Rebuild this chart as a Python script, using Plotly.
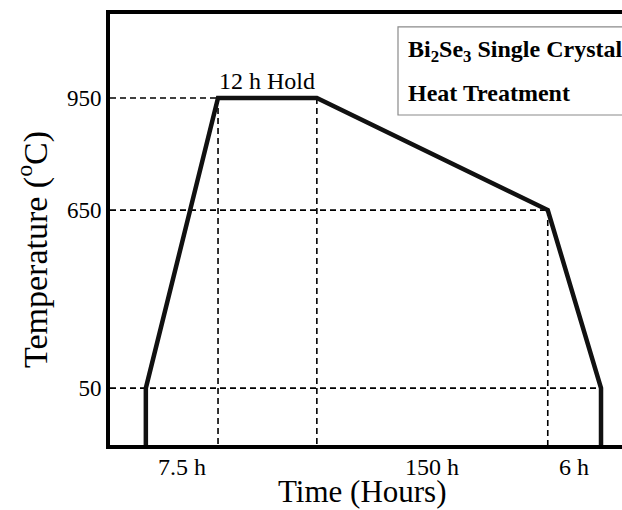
import plotly.graph_objects as go

# ---- data (schematic profile: positions are schematic, not to scale) ----
temp_ticks = [50, 650, 950]            # temperature levels (°C)
temp_heights = [13.2, 54.5, 80.5]      # schematic height of each level on the drawing
profile_x = [7.0, 7.0, 21.1, 40.4, 85.5, 95.9, 95.9]   # schematic time positions
profile_temp = [None, 50, 950, 950, 650, 50, None]     # None = base (room temperature)
stage_labels = ["7.5 h", "12 h Hold", "150 h", "6 h"]
stage_segments = [(1, 2), (2, 3), (3, 4), (4, 5)]      # profile segments each label belongs to

level = dict(zip(temp_ticks, temp_heights))
profile_y = [0 if t is None else level[t] for t in profile_temp]

FONT = "Liberation Serif"
fig = go.Figure()

dash_style = dict(color="black", width=1.6, dash="6px,4px")
# horizontal guides: from y axis to the last point reaching each level
for t in temp_ticks:
    xs = [x for x, tt in zip(profile_x, profile_temp) if tt == t]
    fig.add_trace(go.Scatter(x=[0, max(xs)], y=[level[t], level[t]], mode="lines",
                             line=dash_style, hoverinfo="skip", showlegend=False))
# vertical guides: from interior corners down to the time axis
for i in (2, 3, 4):
    fig.add_trace(go.Scatter(x=[profile_x[i], profile_x[i]], y=[profile_y[i], 0], mode="lines",
                             line=dash_style, hoverinfo="skip", showlegend=False))

# main profile
fig.add_trace(go.Scatter(x=profile_x, y=profile_y, mode="lines",
                         line=dict(color="#111111", width=4.5), showlegend=False, cliponaxis=False))

# stage labels
for lab, (a, b) in zip(stage_labels, stage_segments):
    xm = (profile_x[a] + profile_x[b]) / 2
    if lab.startswith("12"):
        fig.add_annotation(x=xm, y=profile_y[a], yshift=17, text=lab, showarrow=False,
                           xref="x", yref="y", xanchor="center", yanchor="middle",
                           font=dict(family=FONT, size=24, color="black"))
    else:
        fig.add_annotation(x=xm, y=-0.051, text=lab, showarrow=False, xref="x", yref="paper",
                           xanchor="center", yanchor="middle",
                           font=dict(family=FONT, size=24, color="black"))

# axis titles
fig.add_annotation(x=0.494, y=-0.108, xref="paper", yref="paper", text="Time (Hours)",
                   xanchor="center", yanchor="middle",
                   showarrow=False, font=dict(family=FONT, size=31, color="black"))
fig.add_annotation(x=-0.150, y=0.453, xref="paper", yref="paper",
                   text="Temperature (<sup>o</sup>C)", textangle=-90,
                   xanchor="center", yanchor="middle",
                   showarrow=False, font=dict(family=FONT, size=34, color="black"))

# legend-like box
fig.add_shape(type="rect", xref="paper", yref="paper", x0=0.5625, x1=1.05, y0=0.7657, y1=0.970,
              line=dict(color="#8a8a8a", width=1.2), fillcolor="white", layer="below")
fig.add_annotation(x=0.578, y=0.913, xref="paper", yref="paper", xanchor="left", yanchor="middle",
                   text="<b>Bi<sub>2</sub>Se<sub>3</sub> Single Crystal</b>", showarrow=False,
                   font=dict(family=FONT, size=24, color="black"))
fig.add_annotation(x=0.578, y=0.816, xref="paper", yref="paper", xanchor="left", yanchor="middle",
                   text="<b>Heat Treatment</b>", showarrow=False,
                   font=dict(family=FONT, size=24, color="black"))

fig.update_layout(
    width=622, height=510,
    margin=dict(l=110, r=0, t=14, b=65),
    paper_bgcolor="white", plot_bgcolor="white",
    xaxis=dict(range=[0, 100], showline=True, linewidth=4, linecolor="black", mirror=True,
               showticklabels=False, showgrid=False, zeroline=False, ticks=""),
    yaxis=dict(range=[0, 100], showline=True, linewidth=4, linecolor="black", mirror=False,
               tickvals=temp_heights, ticktext=[str(t) for t in temp_ticks], ticks="",
               tickfont=dict(family=FONT, size=23, color="black"),
               showgrid=False, zeroline=False),
)

fig.write_html("out.html")
